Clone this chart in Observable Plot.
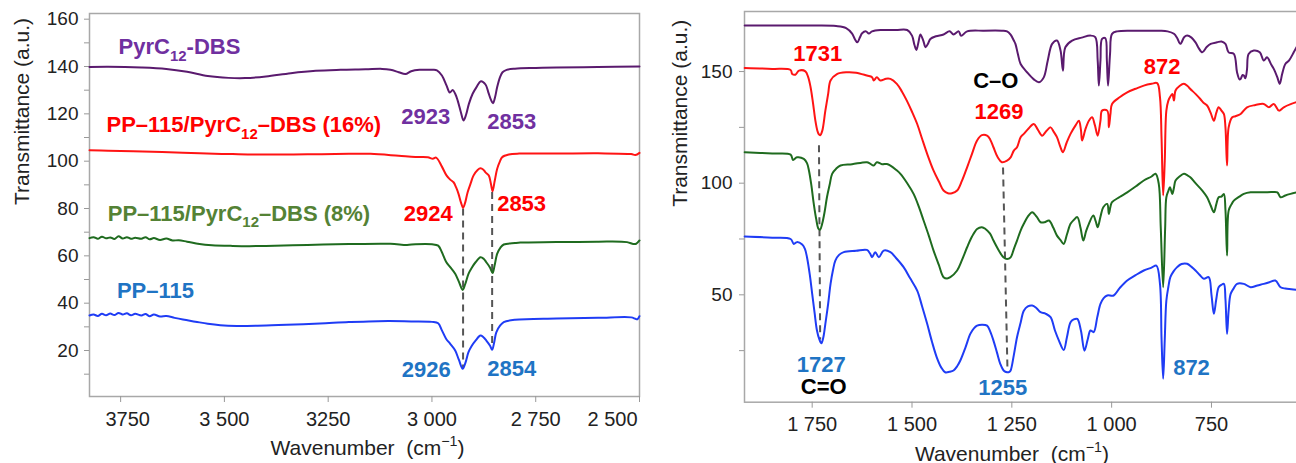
<!DOCTYPE html>
<html><head><meta charset="utf-8">
<script src="https://cdn.jsdelivr.net/npm/d3@7"></script>
<script src="https://cdn.jsdelivr.net/npm/@observablehq/plot@0.6"></script>
<style>
html,body{margin:0;padding:0;background:#fff;}
body{width:1296px;height:463px;overflow:hidden;position:relative;font-family:"Liberation Sans",Arial,sans-serif;}
#left{position:absolute;left:0;top:0;width:660px;}
#right{position:absolute;left:650px;top:0;width:680px;}
svg{max-width:none !important;}
</style></head><body><div id="left"></div><div id="right"></div>
<script>
// ---------- LEFT PANEL DATA (wavenumber, transmittance) ----------
const leftPurple = [[3825,139.8],[3780,139.9],[3700,139.6],[3640,139],[3590,137.8],[3540,136],[3490,135.2],[3450,135.1],[3400,135.8],[3340,137.2],[3280,138.2],[3220,138.6],[3160,138.8],[3120,139],[3100,138.6],[3080,137.6],[3064,136.8],[3050,138],[3030,138.6],[3000,138.6],[2988,138.4],[2976,136.2],[2965,132],[2957,129],[2950,130.1],[2944,128.5],[2938,125.6],[2930,120.5],[2924,117.2],[2918,119.5],[2911,124.2],[2902,128.5],[2893,131.2],[2882,133.8],[2871,132.4],[2864,129],[2858,126],[2853,124.5],[2848,127],[2843,131.2],[2836,135.5],[2830,137.6],[2820,138.6],[2800,139.1],[2750,139.4],[2700,139.6],[2600,139.8],[2500,140]];
const leftRed = [[3825,104.6],[3780,104.4],[3720,104.2],[3650,103.9],[3560,103.3],[3480,103],[3400,102.8],[3300,102.9],[3200,103.1],[3148,103.1],[3080,102.3],[3040,101.8],[3010,101.7],[2998,101],[2990,101.5],[2976,97.7],[2965,94],[2956,92.2],[2948,91.1],[2942,89],[2936,86.2],[2930,82.5],[2925,80.3],[2920,82.5],[2914,86.9],[2907,90.5],[2900,93.9],[2890,96.3],[2883,97],[2876,96.4],[2871,95.3],[2863,93.9],[2858,90.5],[2854,87.3],[2849,91.5],[2843,96.7],[2836,100],[2831,101.7],[2815,102.8],[2790,103.2],[2700,103.2],[2600,103.3],[2520,103],[2510,102.6],[2500,103.5]];
const leftGreen = [[3825,67.5],[3815,67.9],[3805,67.2],[3795,68.1],[3785,67.4],[3775,67.8],[3765,67.1],[3755,68.3],[3745,67.3],[3735,67.9],[3725,67.2],[3715,67.6],[3700,67.2],[3690,67.9],[3680,67],[3670,67.5],[3655,66.7],[3640,67.3],[3625,66.5],[3610,66.6],[3590,66],[3560,65],[3530,64.5],[3480,64.2],[3440,64.1],[3400,64.2],[3300,64.6],[3200,65],[3100,65.1],[3060,64.6],[3040,64.9],[3000,64.9],[2985,64.3],[2976,61.5],[2966,57.5],[2956,55.2],[2944,52.4],[2935,49],[2926,45.6],[2920,48],[2912,52.4],[2904,55],[2895,57.3],[2883,59.4],[2875,58.7],[2869,57.3],[2860,55],[2854,52.7],[2849,56],[2843,60.8],[2835,63.5],[2827,64.8],[2800,65.4],[2787,65.6],[2700,65.8],[2600,66],[2530,65.8],[2515,65],[2508,65.1],[2500,66.5]];
const leftBlue = [[3825,34.8],[3815,35.2],[3805,34.6],[3795,35.5],[3785,34.9],[3775,35.6],[3765,35],[3755,35.9],[3745,35.2],[3735,35.7],[3725,34.9],[3715,35.5],[3700,34.8],[3690,35.4],[3680,34.5],[3670,35.2],[3655,34.4],[3640,34.6],[3620,33.8],[3600,33.1],[3570,32.2],[3540,31.3],[3510,30.7],[3470,30.4],[3420,30.5],[3350,30.9],[3270,31.4],[3200,32],[3105,32.5],[3050,32.3],[3000,32.1],[2985,31.5],[2976,28.5],[2966,25],[2956,22.8],[2944,20],[2935,16],[2926,12.3],[2919,15],[2912,19.3],[2904,22],[2895,24.2],[2883,26.3],[2876,25.6],[2869,24.2],[2860,22],[2855,20.3],[2850,23.5],[2845,27.7],[2836,30.5],[2827,32],[2800,33],[2700,33.5],[2600,33.8],[2520,34],[2510,33.4],[2505,33.2],[2500,34.5]];

const leftXTicks = [3750, 3500, 3250, 3000, 2750, 2500];
const leftXLabels = ["3750", "3 500", "3250", "3 000", "2 750", "2 500"];
const leftYTicks = [10,20,30,40,50,60,70,80,90,100,110,120,130,140,150,160];
const leftYLabelled = [20,40,60,80,100,120,140,160];

const leftNames = [
  {wn: 3755, t: 148.1, text: "PyrC_{12}-DBS", color: "#7030a0"},
  {wn: 3784, t: 115.1, text: "PP–115/PyrC_{12}–DBS (16%)", color: "#ff0000"},
  {wn: 3781, t: 77.8, text: "PP–115/PyrC_{12}–DBS (8%)", color: "#548235"},
  {wn: 3759, t: 45.1, text: "PP–115", color: "#1f74c4"}
];
const leftPeaks = [
  {wn: 3015, t: 118.6, text: "2923", color: "#7030a0"},
  {wn: 2808, t: 116.7, text: "2853", color: "#7030a0"},
  {wn: 3009, t: 77.8, text: "2924", color: "#ff0000"},
  {wn: 2784, t: 82, text: "2853", color: "#ff0000"},
  {wn: 3014, t: 11.6, text: "2926", color: "#1f74c4"},
  {wn: 2808, t: 12.3, text: "2854", color: "#1f74c4"}
];
const leftDash = [[2925, 80, 2925, 12.5], [2855, 87, 2855, 20.5]];

// ---------- RIGHT PANEL DATA ----------
const rightPurple = [[1919,170.6],[1850,170.6],[1750,170.6],[1690,170.4],[1665,169.5],[1650,167],[1643,164.5],[1637,163.1],[1630,165.5],[1625,167.2],[1615,168],[1608,167],[1600,168],[1579,168.6],[1540,168.6],[1512,168.6],[1500,166.1],[1494,162],[1489,159.7],[1484,163],[1479,166.6],[1472,164],[1466,160.9],[1460,162.5],[1454,164.6],[1440,165.8],[1421,166.6],[1406,168],[1396,166.6],[1383,168],[1377,166],[1362,168],[1320,168.3],[1275,168.3],[1262,168],[1253,166.5],[1245,163.9],[1241,162.4],[1235,158],[1228,153.4],[1212,149.7],[1195,146.5],[1182,145.2],[1170,147.4],[1160,155],[1149,162.4],[1137,163.9],[1128,159.4],[1122,150.4],[1116,160.9],[1099,163.9],[1075,165.2],[1053,166.1],[1041,165.4],[1035,155],[1032,143.7],[1028,155],[1024,164.6],[1016,165],[1012,155],[1009,143.7],[1004,158],[999,166.9],[986,168],[950,168.3],[900,168.3],[878,168.3],[860,168],[844,166.9],[836,165],[828,162.4],[818,165.5],[811,166.1],[800,165.2],[790,163.1],[782,160.5],[773,158.6],[762,161],[752,162.4],[736,163.1],[725,163.5],[715,162.4],[707,158.6],[694,157.9],[686,149.7],[680,146.5],[677,146.7],[672,148.5],[669,148.2],[665,147],[661,151],[657,157.9],[644,159.4],[629,158.6],[619,154.9],[611,156.4],[600,153],[594,151.2],[585,147.4],[579,144.5],[573,148.9],[565,153.4],[556,154.9],[544,158.6],[537,160.9]];
const rightRed = [[1919,151.6],[1850,151.2],[1804,150.7],[1800,148.9],[1792,148.6],[1783,150.4],[1767,150.1],[1760,147.5],[1754,143],[1748,136],[1742,128],[1737,123.5],[1734,122.1],[1730,121.5],[1725,123.3],[1717,132.5],[1710,140],[1704,146],[1688,148.9],[1663,149.7],[1640,149.5],[1613,148.2],[1600,147.5],[1596,146],[1588,147.4],[1579,146],[1565,146.8],[1554,146.7],[1538,144.5],[1525,141],[1513,137],[1500,132],[1487,126.5],[1475,120],[1462,113.1],[1446,105.6],[1432,100.5],[1421,96.7],[1410,95.5],[1400,95.5],[1387,96.7],[1375,101],[1362,107.1],[1350,113],[1337,119.1],[1325,121.5],[1312,121.3],[1304,119.5],[1296,116.1],[1285,111.5],[1275,109.4],[1262,110.1],[1253,111.6],[1245,114.6],[1237,116.1],[1228,120.6],[1220,122.1],[1208,124.5],[1195,126.5],[1185,124],[1174,121.3],[1163,123.5],[1153,125],[1145,123],[1137,120.6],[1128,116],[1122,113.9],[1113,118],[1103,122.1],[1090,126],[1082,128],[1077,124],[1074,119.1],[1066,124],[1057,128],[1049,129.5],[1042,126],[1035,121.3],[1028,128],[1024,132.5],[1011,132.5],[1007,125],[1003,131],[999,135.5],[980,138.5],[961,140.7],[940,142.3],[919.5,143.7],[900,144.5],[886,144.8],[879,138.5],[875,120],[871,94.5],[867,110],[863,132.5],[858,137],[854,138.5],[848,140],[844,137],[840,141.5],[830,143.5],[819,144.5],[810,143.5],[803,142.2],[790,140],[778,137.7],[770,136],[761,134.8],[752,131.5],[744,128],[738,131.5],[732,134],[725,132.5],[719,131],[715,125],[711,107.9],[707,125],[698,129.5],[690,130],[677,131],[661,134],[640,135],[619,135.5],[606,134],[594,135.5],[581,132.5],[569,134],[550,135.5],[537,136.3]];
const rightGreen = [[1919,113.9],[1850,113.3],[1804,112.8],[1798,110.4],[1788,111.6],[1771,110.9],[1763,109],[1758,105.6],[1752,99],[1746,90.7],[1740,84],[1734,79.5],[1730,79.2],[1725,81.8],[1719,87],[1713,93.7],[1706,99.5],[1700,104.2],[1690,106.5],[1679,107.9],[1650,108.5],[1613,109.4],[1605,108.8],[1596,107.9],[1588,109.4],[1575,108.5],[1563,108.6],[1554,107.9],[1540,106],[1529,104.2],[1512,100],[1496,95.2],[1483,89.5],[1471,83.3],[1458,76.5],[1446,69.8],[1433,63.5],[1421,57.9],[1412,57.3],[1404,57.9],[1387,60.9],[1375,65.5],[1362,71.3],[1350,76],[1337,79.5],[1325,80.3],[1316,79.5],[1305,77.5],[1296,74.3],[1283,70],[1271,66.8],[1262,66],[1253,66.8],[1245,70.5],[1237,74.3],[1228,78.8],[1220,81.8],[1210,85],[1199,87],[1188,85],[1178,82.5],[1168,82.5],[1157,83.3],[1146,80],[1137,76.5],[1128,74.5],[1120,72.8],[1112,77],[1103,81.8],[1095,83.5],[1086,84.8],[1078,80],[1071,74.3],[1064,78.5],[1057,81.8],[1046,85.5],[1040,83],[1035,80.3],[1028,85],[1021,89.2],[1011,90.7],[1007,86.2],[1003,89.5],[999,91.5],[980,93.8],[961,95.9],[940,98.5],[919.5,101.2],[900,103],[890,104.2],[882,99.7],[877,80],[871,53.4],[866,80],[863,93.7],[858,96.5],[854,98.2],[848,95.2],[844,98],[840,101.2],[830,103],[819,104.2],[810,103.5],[803,102.7],[790,100],[773,96.7],[761,93.7],[752,90],[744,87],[738,90.5],[732,93.7],[725,94],[719,95.2],[715,88],[711,67.6],[707,87.7],[700,90.5],[694,92.2],[680,94],[669,95.2],[652,95.9],[619,95.9],[600,96],[585,95.9],[577,93.7],[565,94.5],[552,95.2],[537,95.9]];
const rightBlue = [[1919,76.1],[1850,75.6],[1804,75],[1796,72.8],[1788,73.6],[1775,72.5],[1768,70.5],[1763,66.8],[1756,59],[1750,50.4],[1744,42],[1738,34],[1732,30],[1727,28.3],[1722,31],[1717,37],[1710,46],[1704,54.9],[1698,61],[1692,65.3],[1682,68],[1671,69.1],[1640,69.7],[1613,70.1],[1605,68.5],[1600,66.8],[1592,69.1],[1583,66.8],[1571,69.8],[1554,69.1],[1540,66.5],[1521,62.4],[1505,57.5],[1487,51.9],[1475,45],[1462,37],[1450,29],[1438,22],[1427,17.5],[1417,15.3],[1406,15.5],[1396,16.1],[1387,18],[1379,20.6],[1366,26.5],[1354,32.5],[1345,35],[1337,36.2],[1325,36.6],[1312,36.2],[1304,33.5],[1296,29.5],[1287,24],[1279,19.1],[1270,16],[1262,15.3],[1256,15.5],[1253,16.1],[1245,23],[1237,31],[1228,37.5],[1220,42.9],[1210,44.8],[1199,45.2],[1188,44],[1178,42.2],[1165,41.5],[1153,40],[1142,34],[1132,29.5],[1120,25.3],[1112,31],[1103,37.7],[1095,39],[1086,39.2],[1077,34],[1068,25],[1060,30],[1053,34],[1045,33.3],[1036,40],[1028,45.9],[1020,48.5],[1011,49.7],[995,49.7],[980,53],[961,56.4],[940,58.8],[919.5,60.9],[900,62.2],[888,63.1],[879,54.9],[875,30],[871,12.4],[867,30],[863,47.4],[858,53.5],[853,57.9],[845,60.5],[836,62.4],[825,63.8],[811,63.9],[800,62.5],[790,60.9],[780,59],[769,57.2],[757,57.9],[750,50],[744,41.5],[738,48],[732,53.4],[725,54.5],[719,54.9],[715,48],[711,32.5],[707,43],[702,50.4],[694,53],[686,54.9],[669,54.9],[652,53.4],[635,54.2],[619,54.9],[605,55.6],[590,56.4],[577,53.4],[565,52.8],[550,52.5],[537,52.2]];

const rightXTicks = [1750, 1500, 1250, 1000, 750];
const rightXLabels = ["1 750", "1 500", "1 250", "1 000", "750"];
const rightYTicks = [25, 50, 75, 100, 125, 150];
const rightYLabelled = [50, 100, 150];

const rightPeaks = [
  {wn: 1736, t: 157.9, text: "1731", color: "#ff0000"},
  {wn: 1290, t: 146, text: "C–O", color: "#000000"},
  {wn: 1282, t: 132.1, text: "1269", color: "#ff0000"},
  {wn: 873.5, t: 151.9, text: "872", color: "#ff0000"},
  {wn: 1727.5, t: 18.8, text: "1727", color: "#1f74c4"},
  {wn: 1721, t: 8.6, text: "C=O", color: "#000000"},
  {wn: 1273, t: 8.2, text: "1255", color: "#1f74c4"},
  {wn: 800, t: 17.3, text: "872", color: "#1f74c4"}
];
const rightDash = [[1733, 117, 1730, 30], [1272, 107, 1261, 17]];

const lineColors = {purple: "#5a1a6e", red: "#ff1414", green: "#1f6b1f", blue: "#1f3cf5"};
const FONT = '"Liberation Sans", Arial, sans-serif';
const TITLE_X = "Wavenumber  (cm^{−1})";
const TITLE_Y = "Transmittance (a.u.)";

function spectrum(data, color) {
  return Plot.line(data, {x: d => d[0], y: d => d[1], stroke: color, strokeWidth: 2, curve: "catmull-rom"});
}
function labels(data, anchor) {
  return Plot.text(data, {x: "wn", y: "t", text: "text", fill: "color", fontSize: 22, fontWeight: "bold", textAnchor: anchor});
}
function dashes(data) {
  return Plot.link(data, {x1: d => d[0], y1: d => d[1], x2: d => d[2], y2: d => d[3], stroke: "#555", strokeWidth: 2, strokeDasharray: "7,5"});
}

function richify(svg) {
  svg.querySelectorAll("text").forEach(t => {
    const s = t.textContent;
    if (!/[_^]\{/.test(s)) return;
    const fs = parseFloat(getComputedStyle(t).fontSize) || 16;
    const parts = s.split(/([_^]\{[^}]*\})/).filter(p => p !== "");
    while (t.firstChild) t.removeChild(t.firstChild);
    let offset = 0;
    for (const p of parts) {
      const ts = document.createElementNS("http://www.w3.org/2000/svg", "tspan");
      let txt = p, target = 0, small = false;
      if (p.startsWith("_{")) { txt = p.slice(2, -1); target = 0.3 * fs; small = true; }
      else if (p.startsWith("^{")) { txt = p.slice(2, -1); target = -0.42 * fs; small = true; }
      const dy = target - offset; offset = target;
      if (dy) ts.setAttribute("dy", dy);
      if (small) ts.setAttribute("font-size", (0.68 * fs) + "px");
      ts.textContent = txt;
      t.appendChild(ts);
    }
  });
}

const xl = d => leftXLabels[leftXTicks.indexOf(d)];
const left = Plot.plot({
  width: 660, height: 463,
  marginLeft: 89, marginRight: 21, marginTop: 13, marginBottom: 67,
  style: {fontFamily: FONT, background: "white", overflow: "visible"},
  x: {domain: [3825, 2500]},
  y: {domain: [0.57, 162.4]},
  marks: [
    Plot.frame({stroke: "#a8a8a8", strokeWidth: 1.5}),
    Plot.axisY(leftYTicks, {tickSize: 5, tickPadding: 6, fontSize: 19, color: "#222", stroke: "#999", label: null,
      tickFormat: d => leftYLabelled.includes(d) ? String(d) : ""}),
    Plot.axisX(leftXTicks, {tickSize: 6, stroke: "#999", tickFormat: () => "", label: null}),
    Plot.axisX([3500, 3250, 3000, 2750], {tickSize: 0, tickPadding: 15, fontSize: 20, color: "#222", label: null, tickFormat: xl}),
    Plot.axisX([3750], {tickSize: 0, tickPadding: 15, fontSize: 20, color: "#222", label: null, dx: 7, tickFormat: xl}),
    Plot.axisX([2500], {tickSize: 0, tickPadding: 15, fontSize: 20, color: "#222", label: null, dx: -27, tickFormat: xl}),
    Plot.text([TITLE_X], {text: d => d, frameAnchor: "bottom", dy: 58, dx: 3, fontSize: 21, fill: "#222"}),
    Plot.text([TITLE_Y], {text: d => d, frameAnchor: "left", dx: -67, rotate: -90, fontSize: 21, fill: "#222"}),
    dashes(leftDash),
    spectrum(leftPurple, lineColors.purple),
    spectrum(leftRed, lineColors.red),
    spectrum(leftGreen, lineColors.green),
    spectrum(leftBlue, lineColors.blue),
    labels(leftNames, "start"),
    labels(leftPeaks, "middle")
  ]
});

const right = Plot.plot({
  width: 680, height: 463,
  marginLeft: 94, marginRight: 19.2, marginTop: 11, marginBottom: 61.3,
  style: {fontFamily: FONT, background: "white", overflow: "visible"},
  x: {domain: [1919.5, 500]},
  y: {domain: [1.9, 176.9]},
  marks: [
    Plot.frame({stroke: "#a8a8a8", strokeWidth: 1.5}),
    Plot.axisY(rightYTicks, {tickSize: 5, tickPadding: 7, fontSize: 19, color: "#222", stroke: "#999", label: null,
      tickFormat: d => rightYLabelled.includes(d) ? String(d) : ""}),
    Plot.axisX(rightXTicks, {tickSize: 6, stroke: "#999", tickFormat: () => "", label: null}),
    Plot.axisX(rightXTicks, {tickSize: 0, tickPadding: 15, fontSize: 20, color: "#222", label: null,
      tickFormat: d => rightXLabels[rightXTicks.indexOf(d)]}),
    Plot.text([TITLE_X], {text: d => d, frameAnchor: "bottom", dy: 59, dx: -16, fontSize: 21, fill: "#222"}),
    Plot.text([TITLE_Y], {text: d => d, frameAnchor: "left", dx: -64, rotate: -90, fontSize: 21, fill: "#222"}),
    dashes(rightDash),
    spectrum(rightPurple, lineColors.purple),
    spectrum(rightRed, lineColors.red),
    spectrum(rightGreen, lineColors.green),
    spectrum(rightBlue, lineColors.blue),
    labels(rightPeaks, "middle")
  ]
});

document.getElementById("left").appendChild(left);
document.getElementById("right").appendChild(right);
richify(left);
richify(right);
</script>
</body></html>
